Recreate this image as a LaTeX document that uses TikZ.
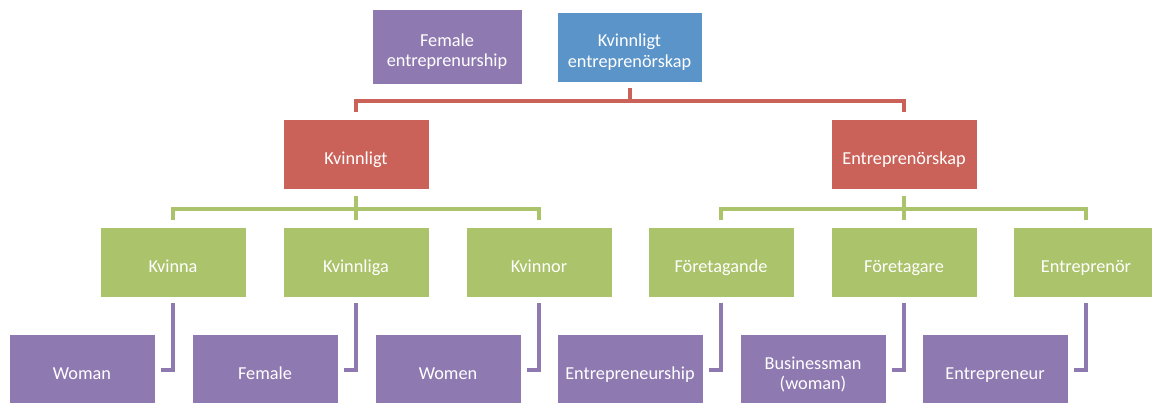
\documentclass[tikz,border=0pt]{standalone}
\usepackage{fontspec}
\setmainfont{Carlito}
\usetikzlibrary{positioning}

\definecolor{boxblue}{RGB}{91,148,200}
\definecolor{boxred}{RGB}{203,98,89}
\definecolor{boxgreen}{RGB}{171,195,106}
\definecolor{boxpurple}{RGB}{143,121,177}

% texten sitter lite under mitten av rutan
\newcommand{\boxtext}[1]{\raisebox{-3.4pt}[\height][\depth]{\begin{tabular}{@{}c@{}}#1\end{tabular}}}

\tikzset{
  box/.style={rectangle, draw=white, line width=0.4pt, text=white,
    minimum width=2.92cm, minimum height=1.4cm, inner sep=2pt,
    font=\fontsize{10.4}{11.6}\selectfont},
  rootbox/.style={box, fill=boxblue},
  redbox/.style={box, fill=boxred},
  greenbox/.style={box, fill=boxgreen},
  lilabox/.style={box, fill=boxpurple},
  link/.style={line width=0.08cm, line join=miter},
}

\begin{document}
\begin{tikzpicture}
\useasboundingbox (0,0) rectangle (23.04,-8.06);
\clip (0,0) rectangle (23.04,-8.06);

% översta raden
\node[lilabox, minimum width=3.0cm, minimum height=1.5cm] (female) at (8.94,-0.93) {\boxtext{Female\\entreprenurship}};
\node[rootbox, minimum width=2.9cm] (root) at (12.59,-0.94) {\boxtext{Kvinnligt\\entreprenörskap}};

% de två orden
\node[redbox] (kvinnligt) at (7.12,-3.09) {\boxtext{Kvinnligt}};
\node[redbox] (entreprenorskap) at (18.08,-3.09) {\boxtext{Entreprenörskap}};

% böjningsformer
\node[greenbox] (kvinna) at (3.46,-5.24) {\boxtext{Kvinna}};
\node[greenbox] (kvinnliga) at (7.12,-5.24) {\boxtext{Kvinnliga}};
\node[greenbox] (kvinnor) at (10.78,-5.24) {\boxtext{Kvinnor}};
\node[greenbox] (foretagande) at (14.42,-5.24) {\boxtext{Företagande}};
\node[greenbox] (foretagare) at (18.08,-5.24) {\boxtext{Företagare}};
\node[greenbox] (entreprenor) at (21.72,-5.24) {\boxtext{Entreprenör}};

% engelska motsvarigheter
\node[lilabox, below=0.74cm of kvinna, xshift=-1.82cm] (woman) {\boxtext{Woman}};
\node[lilabox, below=0.74cm of kvinnliga, xshift=-1.82cm] (femaleen) {\boxtext{Female}};
\node[lilabox, below=0.74cm of kvinnor, xshift=-1.82cm] (women) {\boxtext{Women}};
\node[lilabox, below=0.74cm of foretagande, xshift=-1.82cm] (entrepreneurship) {\boxtext{Entrepreneurship}};
\node[lilabox, below=0.74cm of foretagare, xshift=-1.82cm] (businessman) {\boxtext{Businessman\\(woman)}};
\node[lilabox, below=0.74cm of entreprenor, xshift=-1.82cm] (entrepreneur) {\boxtext{Entrepreneur}};

% röda kopplingar
\draw[link, boxred] ([yshift=-0.12cm]root.south) -- ++(0,-0.26) -| ([yshift=0.14cm]kvinnligt.north);
\draw[link, boxred] ([yshift=-0.12cm]root.south) -- ++(0,-0.26) -| ([yshift=0.14cm]entreprenorskap.north);

% gröna kopplingar
\draw[link, boxgreen] ([yshift=-0.12cm]kvinnligt.south) -- ++(0,-0.26) -| ([yshift=0.14cm]kvinna.north);
\draw[link, boxgreen] ([yshift=-0.12cm]kvinnligt.south) -- ++(0,-0.26) -| ([yshift=0.14cm]kvinnliga.north);
\draw[link, boxgreen] ([yshift=-0.12cm]kvinnligt.south) -- ++(0,-0.26) -| ([yshift=0.14cm]kvinnor.north);
\draw[link, boxgreen] ([yshift=-0.12cm]entreprenorskap.south) -- ++(0,-0.26) -| ([yshift=0.14cm]foretagande.north);
\draw[link, boxgreen] ([yshift=-0.12cm]entreprenorskap.south) -- ++(0,-0.26) -| ([yshift=0.14cm]foretagare.north);
\draw[link, boxgreen] ([yshift=-0.12cm]entreprenorskap.south) -- ++(0,-0.26) -| ([yshift=0.14cm]entreprenor.north);

% lila kopplingar
\draw[link, boxpurple] ([yshift=-0.12cm]kvinna.south) |- ([xshift=0.12cm]woman.east);
\draw[link, boxpurple] ([yshift=-0.12cm]kvinnliga.south) |- ([xshift=0.12cm]femaleen.east);
\draw[link, boxpurple] ([yshift=-0.12cm]kvinnor.south) |- ([xshift=0.12cm]women.east);
\draw[link, boxpurple] ([yshift=-0.12cm]foretagande.south) |- ([xshift=0.12cm]entrepreneurship.east);
\draw[link, boxpurple] ([yshift=-0.12cm]foretagare.south) |- ([xshift=0.12cm]businessman.east);
\draw[link, boxpurple] ([yshift=-0.12cm]entreprenor.south) |- ([xshift=0.12cm]entrepreneur.east);
\end{tikzpicture}
\end{document}
